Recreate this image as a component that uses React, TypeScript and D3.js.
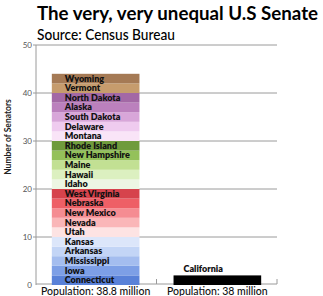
import React from 'react';
import * as d3 from 'd3';

// small states, bottom to top, 2 senators each
const smallStates = [
  'Connecticut', 'Iowa', 'Mississippi', 'Arkansas', 'Kansas',
  'Utah', 'Nevada', 'New Mexico', 'Nebraska', 'West Virginia',
  'Idaho', 'Hawaii', 'Maine', 'New Hampshire', 'Rhode Island',
  'Montana', 'Delaware', 'South Dakota', 'Alaska', 'North Dakota',
  'Vermont', 'Wyoming',
];
const stateColors = [
  '#5981d8', '#7d9fe6', '#a4bdef', '#c3d5f6', '#dce6fa',
  '#fde3e3', '#fab6b8', '#f58c92', '#ee5f66', '#d6434c',
  '#edf6e3', '#dcf0c0', '#c2e093', '#94c15a', '#6f9b3c',
  '#f9e4f7', '#efcbef', '#d8a6d9', '#bb80bd', '#a368a5',
  '#c69c6d', '#a57a55',
];
const smallSenators = smallStates.map(() => 2);
const bigState = 'California';
const bigSenators = 2;
const groups = ['Population: 38.8 million', 'Population: 38 million'];
const yTicks = [0, 10, 20, 30, 40, 50];

const W = 323;
const H = 296;
const margin = { top: 45, right: 46, bottom: 11, left: 36 };

export default function App() {
  const x = d3.scaleBand<string>()
    .domain(groups)
    .range([margin.left, W - margin.right])
    .paddingInner(0.28)
    .paddingOuter(0.13);
  const y = d3.scaleLinear().domain([0, 50]).range([H - margin.bottom, margin.top]);

  // stack the small states
  const cum = d3.cumsum(smallSenators);
  const segs = smallStates.map((s, i) => ({
    name: s,
    color: stateColors[i],
    y0: cum[i] - smallSenators[i],
    y1: cum[i],
  }));

  const x0 = x(groups[0]) as number;
  const x1 = x(groups[1]) as number;
  const bw = x.bandwidth();
  const font = 'Lato, "Open Sans", sans-serif';

  return (
    <svg width={W} height={H} style={{ position: 'absolute', left: 0, top: 0, background: '#fff' }} fontFamily={font}>
      <text x={37} y={20} fontSize={19} fontWeight={700} textLength={281} lengthAdjust="spacingAndGlyphs">
        The very, very unequal U.S Senate
      </text>
      <text x={37} y={40} fontSize={15} fontWeight={500} textLength={138} lengthAdjust="spacingAndGlyphs">
        Source: Census Bureau
      </text>

      {yTicks.map(t => (
        <g key={t}>
          {t > 0 && (
            <line x1={margin.left - 3} x2={W - margin.right} y1={y(t)} y2={y(t)} stroke="#9a9a9a" strokeWidth={1} />
          )}
          <text x={margin.left - 4} y={y(t) + 2.5} fontSize={8} fill="#555" textAnchor="end">{t}</text>
        </g>
      ))}
      <line x1={margin.left} x2={margin.left} y1={margin.top} y2={y(0)} stroke="#9a9a9a" />
      <line x1={margin.left} x2={W - margin.right} y1={y(0) - 1} y2={y(0) - 1} stroke="#9a9a9a" />
      {[x0 + bw + (x1 - x0 - bw) / 2, W - margin.right].map((tx, i) => (
        <line key={i} x1={tx} x2={tx} y1={y(0) - 6} y2={y(0) - 1} stroke="#9a9a9a" />
      ))}

      <text transform={`translate(11,${137}) rotate(-90)`} textAnchor="middle" fontSize={8.5} fontWeight={700} fill="#222">
        Number of Senators
      </text>

      {segs.map(d => (
        <g key={d.name}>
          <rect x={x0} width={bw} y={y(d.y1)} height={y(d.y0) - y(d.y1)} fill={d.color} />
          <text x={x0 + 13} y={(y(d.y0) + y(d.y1)) / 2 + 3} fontSize={9} fontWeight={800} fill="#111">
            {d.name}
          </text>
        </g>
      ))}

      <rect x={x1} width={bw} y={y(bigSenators)} height={y(0) - y(bigSenators)} fill="#000" />
      <text x={x1 + 10} y={y(bigSenators) - 3} fontSize={9} fontWeight={800} fill="#111">{bigState}</text>

      {groups.map(g => (
        <text key={g} x={(x(g) as number) + bw / 2} y={H - 1} fontSize={10.5} fontWeight={500} textAnchor="middle" fill="#111">
          {g}
        </text>
      ))}
    </svg>
  );
}
